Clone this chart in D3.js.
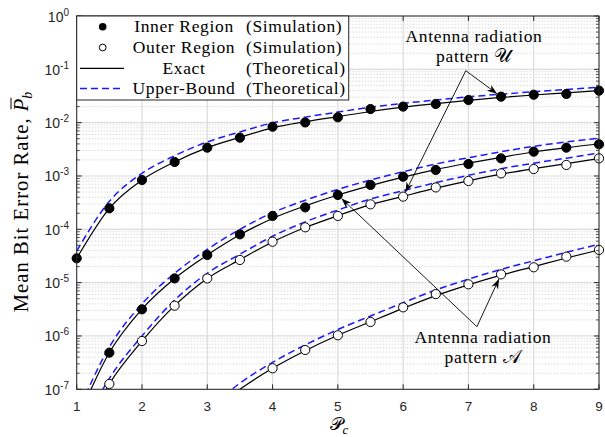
<!DOCTYPE html>
<html><head><meta charset="utf-8">
<script src="https://cdn.jsdelivr.net/npm/d3@7"></script>
<style>body{margin:0;background:#fff}</style>
</head><body>
<svg id="chart" width="605" height="437"></svg>
<script>
// Normalised transmit power grid (P_c)
const pc = [1, 1.5, 2, 2.5, 3, 3.5, 4, 4.5, 5, 5.5, 6, 6.5, 7, 7.5, 8, 8.5, 9];

// Simulated mean BER (null = below the plotted range)
const simInnerU = [2.86e-5, 2.48e-4, 8.4e-4, 1.83e-3, 3.4e-3, 5.23e-3, 8.4e-3, 1.01e-2, 1.26e-2, 1.8e-2, 2.0e-2, 2.24e-2, 2.66e-2, 3.07e-2, 3.34e-2, 3.45e-2, 3.98e-2];
const simInnerA = [null, 4.86e-7, 3.16e-6, 1.2e-5, 3.3e-5, 8.05e-5, 1.78e-4, 2.58e-4, 4.4e-4, 6.8e-4, 9.7e-4, 1.3e-3, 1.68e-3, 2.14e-3, 2.86e-3, 3.4e-3, 3.93e-3];
const simOuterU = [null, 1.26e-7, 8.05e-7, 3.7e-6, 1.2e-5, 2.66e-5, 5.86e-5, 1.09e-4, 1.78e-4, 2.94e-4, 4.1e-4, 6.1e-4, 8.06e-4, 1.12e-3, 1.35e-3, 1.61e-3, 2.14e-3];
const simOuterA = [null, null, null, null, null, null, 2.48e-7, 5.46e-7, 1.03e-6, 1.83e-6, 3.44e-6, 6.1e-6, 9.3e-6, 1.43e-5, 1.94e-5, 3.07e-5, 4.1e-5];

// Exact theoretical mean BER
const exactInnerU = [2.86e-5, 2.48e-4, 8.4e-4, 1.83e-3, 3.4e-3, 5.3e-3, 8.0e-3, 1.04e-2, 1.3e-2, 1.62e-2, 1.95e-2, 2.27e-2, 2.62e-2, 2.97e-2, 3.3e-2, 3.62e-2, 3.98e-2];
const exactInnerA = [2.5e-8, 4.9e-7, 3.2e-6, 1.2e-5, 3.3e-5, 7.9e-5, 1.6e-4, 2.75e-4, 4.4e-4, 6.6e-4, 9.5e-4, 1.32e-3, 1.74e-3, 2.24e-3, 2.82e-3, 3.4e-3, 3.98e-3];
const exactOuterU = [8e-9, 1.26e-7, 8.0e-7, 3.7e-6, 1.2e-5, 2.7e-5, 5.8e-5, 1.08e-4, 1.8e-4, 2.9e-4, 4.15e-4, 5.9e-4, 8.1e-4, 1.08e-3, 1.37e-3, 1.7e-3, 2.12e-3];
const exactOuterA = [2e-10, 1e-9, 3.5e-9, 1e-8, 3.2e-8, 1.0e-7, 2.48e-7, 5.3e-7, 1.03e-6, 1.85e-6, 3.3e-6, 5.7e-6, 9.1e-6, 1.38e-5, 2.0e-5, 2.9e-5, 4.1e-5];

// Upper-bound theoretical mean BER
const boundInnerU = [3.9e-5, 3.35e-4, 1.12e-3, 2.4e-3, 4.35e-3, 6.7e-3, 9.9e-3, 1.27e-2, 1.58e-2, 1.95e-2, 2.3e-2, 2.65e-2, 3.05e-2, 3.42e-2, 3.8e-2, 4.2e-2, 4.6e-2];
const boundInnerA = [3.3e-8, 6.2e-7, 4.0e-6, 1.5e-5, 4.2e-5, 1.0e-4, 2.05e-4, 3.5e-4, 5.6e-4, 8.4e-4, 1.2e-3, 1.68e-3, 2.2e-3, 2.85e-3, 3.6e-3, 4.35e-3, 5.1e-3];
const boundOuterU = [1.1e-8, 1.6e-7, 1.0e-6, 4.7e-6, 1.5e-5, 3.4e-5, 7.4e-5, 1.38e-4, 2.3e-4, 3.7e-4, 5.3e-4, 7.5e-4, 1.03e-3, 1.37e-3, 1.74e-3, 2.16e-3, 2.7e-3];
const boundOuterA = [2.6e-10, 1.3e-9, 4.5e-9, 1.3e-8, 4.1e-8, 1.3e-7, 3.2e-7, 6.8e-7, 1.32e-6, 2.37e-6, 4.2e-6, 7.3e-6, 1.16e-5, 1.77e-5, 2.56e-5, 3.7e-5, 5.25e-5];

// Axis ticks
const xTicks = [1, 2, 3, 4, 5, 6, 7, 8, 9];
const yExponents = [-7, -6, -5, -4, -3, -2, -1, 0];

// Legend rows
const legendNames = ["Inner Region", "Outer Region", "Exact", "Upper-Bound"];
const legendKinds = ["(Simulation)", "(Simulation)", "(Theoretical)", "(Theoretical)"];

const W = 605, H = 437;
const plot = {left: 76.7, right: 599, top: 16, bottom: 389.3};
const axisColor = "#262626";
const serif = "'Liberation Serif', 'DejaVu Serif', serif";
const sans = "'Liberation Sans', Arial, sans-serif";

const svg = d3.select("#chart");
const x = d3.scaleLinear().domain([1, 9]).range([plot.left, plot.right]);
const y = d3.scaleLog().domain([1e-7, 1]).range([plot.bottom, plot.top]);

svg.append("defs").append("clipPath").attr("id", "plotClip")
  .append("rect").attr("x", plot.left).attr("y", plot.top)
  .attr("width", plot.right - plot.left).attr("height", plot.bottom - plot.top);

// Grid
const grid = svg.append("g");
const minorVals = [];
yExponents.slice(0, -1).forEach(e => { for (let m = 2; m <= 9; m++) minorVals.push(m * Math.pow(10, e)); });
grid.selectAll("line.minor").data(minorVals).join("line")
  .attr("x1", plot.left).attr("x2", plot.right)
  .attr("y1", d => y(d)).attr("y2", d => y(d))
  .attr("stroke", "#bdbdbd").attr("stroke-width", 0.8).attr("stroke-dasharray", "1,2");
grid.selectAll("line.majy").data(yExponents).join("line")
  .attr("x1", plot.left).attr("x2", plot.right)
  .attr("y1", d => y(Math.pow(10, d))).attr("y2", d => y(Math.pow(10, d)))
  .attr("stroke", "#dcdcdc").attr("stroke-width", 1.2);
grid.selectAll("line.majx").data(xTicks).join("line")
  .attr("y1", plot.top).attr("y2", plot.bottom)
  .attr("x1", d => x(d)).attr("x2", d => x(d))
  .attr("stroke", "#dcdcdc").attr("stroke-width", 1.2);

// Curves
const series = [
  {exact: exactInnerU, bound: boundInnerU, sim: simInnerU, filled: true},
  {exact: exactInnerA, bound: boundInnerA, sim: simInnerA, filled: true},
  {exact: exactOuterU, bound: boundOuterU, sim: simOuterU, filled: false},
  {exact: exactOuterA, bound: boundOuterA, sim: simOuterA, filled: false}
];
const line = d3.line().x(d => x(d[0])).y(d => y(d[1])).curve(d3.curveMonotoneX);
const curves = svg.append("g").attr("clip-path", "url(#plotClip)");
series.forEach(s => {
  curves.append("path").attr("d", line(pc.map((p, i) => [p, s.bound[i]])))
    .attr("fill", "none").attr("stroke", "#1a1aff").attr("stroke-width", 1.5)
    .attr("stroke-dasharray", "7,4");
  curves.append("path").attr("d", line(pc.map((p, i) => [p, s.exact[i]])))
    .attr("fill", "none").attr("stroke", "#000").attr("stroke-width", 1.2);
});
const marks = svg.append("g");
series.forEach(s => {
  const pts = pc.map((p, i) => [p, s.sim[i]]).filter(d => d[1] != null);
  marks.selectAll(null).data(pts).join("circle")
    .attr("cx", d => x(d[0])).attr("cy", d => y(d[1])).attr("r", 4.6)
    .attr("fill", s.filled ? "#000" : "#fff").attr("stroke", "#000").attr("stroke-width", 1);
});

// Axes frame and ticks
const ax = svg.append("g");
ax.append("rect").attr("x", plot.left).attr("y", plot.top)
  .attr("width", plot.right - plot.left).attr("height", plot.bottom - plot.top)
  .attr("fill", "none").attr("stroke", axisColor).attr("stroke-width", 1);
xTicks.forEach(t => {
  ax.append("line").attr("x1", x(t)).attr("x2", x(t)).attr("y1", plot.bottom).attr("y2", plot.bottom - 5).attr("stroke", axisColor);
  ax.append("line").attr("x1", x(t)).attr("x2", x(t)).attr("y1", plot.top).attr("y2", plot.top + 5).attr("stroke", axisColor);
  ax.append("text").attr("x", x(t)).attr("y", 411).attr("text-anchor", "middle")
    .attr("font-family", sans).attr("font-size", 13.5).attr("fill", axisColor).text(t);
});
yExponents.forEach(e => {
  const yy = y(Math.pow(10, e));
  ax.append("line").attr("x1", plot.left).attr("x2", plot.left + 5).attr("y1", yy).attr("y2", yy).attr("stroke", axisColor);
  ax.append("line").attr("x1", plot.right).attr("x2", plot.right - 5).attr("y1", yy).attr("y2", yy).attr("stroke", axisColor);
  const t = ax.append("text").attr("x", 69).attr("y", yy + 5.5).attr("text-anchor", "end")
    .attr("font-family", sans).attr("font-size", 14).attr("fill", axisColor);
  t.append("tspan").text("10");
  t.append("tspan").attr("dy", -6).attr("font-size", 10).text(e === 0 ? "0" : "-" + Math.abs(e));
});
minorVals.forEach(v => {
  const yy = y(v);
  ax.append("line").attr("x1", plot.left).attr("x2", plot.left + 3).attr("y1", yy).attr("y2", yy).attr("stroke", axisColor).attr("stroke-width", 0.8);
  ax.append("line").attr("x1", plot.right).attr("x2", plot.right - 3).attr("y1", yy).attr("y2", yy).attr("stroke", axisColor).attr("stroke-width", 0.8);
});

// Y-axis label: "Mean Bit Error Rate, P̄_b"
const yl = svg.append("g").attr("font-family", serif).attr("fill", "#000");
const ylMain = yl.append("text").attr("font-size", 20.5).attr("letter-spacing", 1.1).text("Mean Bit Error Rate,");
const mainLen = ylMain.node().getComputedTextLength();
const pX = mainLen + 6;
const pSym = yl.append("text").attr("font-size", 20.5).attr("font-style", "italic").attr("x", pX).text("P");
const pLen = pSym.node().getComputedTextLength();
const bSym = yl.append("text").attr("font-size", 14).attr("font-style", "italic").attr("x", pX + pLen).attr("y", 4).text("b");
const totalLen = pX + pLen + bSym.node().getComputedTextLength();
yl.append("line").attr("x1", pX + 2).attr("x2", pX + pLen + 1)
  .attr("y1", -17).attr("y2", -17).attr("stroke", "#000").attr("stroke-width", 1);
yl.attr("transform", `translate(28,${202 + totalLen / 2}) rotate(-90)`);

// X-axis label: script P with subscript c
const xl = svg.append("text").attr("x", 339).attr("y", 430).attr("text-anchor", "middle").attr("font-family", serif);
xl.append("tspan").attr("font-size", 18).text("𝒫");
xl.append("tspan").attr("font-size", 13).attr("font-style", "italic").attr("dy", 4).text("c");

// Annotations with arrows
function arrowHead(g, tip, from) {
  const ang = Math.atan2(tip[1] - from[1], tip[0] - from[0]) * 180 / Math.PI;
  g.append("path").attr("d", "M0,0 L-10,-3.6 L-7,0 L-10,3.6 Z")
    .attr("transform", `translate(${tip[0]},${tip[1]}) rotate(${ang})`).attr("fill", "#000");
}
function annotate(lines, textX, textY, vertex, targets) {
  const g = svg.append("g");
  const vx = [x(vertex[0]), y(vertex[1])];
  targets.forEach(t => {
    const cx = x(t[0]), cy = y(t[1]);
    const dx = vx[0] - cx, dy = vx[1] - cy, len = Math.hypot(dx, dy);
    const tip = [cx + dx / len * 5, cy + dy / len * 5];
    g.append("line").attr("x1", vx[0]).attr("y1", vx[1]).attr("x2", tip[0]).attr("y2", tip[1])
      .attr("stroke", "#000").attr("stroke-width", 0.9);
    arrowHead(g, tip, vx);
  });
  const t = g.append("text").attr("font-family", serif).attr("font-size", 17.5)
    .attr("letter-spacing", 0.65).attr("text-anchor", "middle").attr("fill", "#000");
  lines.forEach((l, i) => {
    const ts = t.append("tspan").attr("x", textX).attr("y", textY + i * 20);
    ts.append("tspan").text(l[0]);
    if (l[1]) ts.append("tspan").attr("font-size", 19).text(l[1]);
  });
}
annotate([["Antenna radiation"], ["pattern ", "𝒰"]], 474, 41.5, [6.96, Math.pow(10, -1.026)],
  [[7.5, simInnerU[13]], [6, simOuterU[10]]]);
annotate([["Antenna radiation"], ["pattern ", "𝒜"]], 483, 343, [7.13, Math.pow(10, -5.826)],
  [[5, simInnerA[8]], [7.5, simOuterA[13]]]);

// Legend
const lg = svg.append("g");
lg.append("rect").attr("x", plot.left).attr("y", plot.top).attr("width", 272).attr("height", 84)
  .attr("fill", "#fff").attr("stroke", axisColor).attr("stroke-width", 1);
const rowY = [26.7, 47.5, 68.3, 88.5];
legendNames.forEach((name, i) => {
  const yy = rowY[i];
  if (i === 0) lg.append("circle").attr("cx", 102.7).attr("cy", yy).attr("r", 3.8).attr("fill", "#000");
  if (i === 1) lg.append("circle").attr("cx", 102.7).attr("cy", yy).attr("r", 3.4).attr("fill", "#fff").attr("stroke", "#000");
  if (i === 2) lg.append("line").attr("x1", 80).attr("x2", 124).attr("y1", yy).attr("y2", yy).attr("stroke", "#000").attr("stroke-width", 1.2);
  if (i === 3) lg.append("line").attr("x1", 80).attr("x2", 124).attr("y1", yy).attr("y2", yy).attr("stroke", "#1a1aff").attr("stroke-width", 1.5).attr("stroke-dasharray", "7,4");
  lg.append("text").attr("x", 184).attr("y", yy + 5.5).attr("text-anchor", "middle")
    .attr("font-family", serif).attr("font-size", 17.5).attr("letter-spacing", 0.65).text(name);
  lg.append("text").attr("x", 246).attr("y", yy + 5.5)
    .attr("font-family", serif).attr("font-size", 17.5).attr("letter-spacing", 0.65).text(legendKinds[i]);
});
</script>
</body></html>
